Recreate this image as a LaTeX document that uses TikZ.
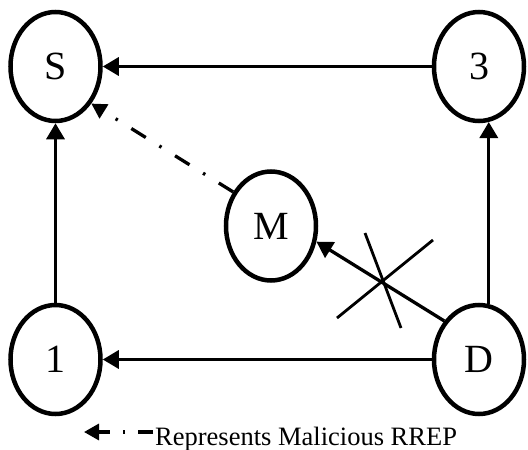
\documentclass[tikz,border=0pt]{standalone}
\usepackage{fontspec}
\setmainfont{Liberation Serif}
\usetikzlibrary{arrows.meta,shapes.geometric,calc}
\begin{document}
\begin{tikzpicture}[x=1pt,y=-1pt,
  nodeell/.style={ellipse,draw,line width=4.5pt,minimum width=90pt,minimum height=109pt,inner sep=0pt,font=\fontsize{40}{40}\selectfont},
  link/.style={line width=3.3pt,-{Triangle[length=16pt,width=18pt]}},
  mal/.style={line width=3.3pt,dash pattern=on 17pt off 16pt on 2.5pt off 16pt,-{Triangle[length=15pt,width=16pt]}},
  legendmal/.style={mal,dash pattern=on 15pt off 13pt on 2.5pt off 13pt},
  crossline/.style={line width=2.8pt}]
\useasboundingbox (0,0) rectangle (528,450);
\node[nodeell] (S) at (55.5,66.5) {S};
\node[nodeell] (T) at (479,66.5) {3};
\node[nodeell] (M) at (271,226) {M};
\node[nodeell] (O) at (55.5,359.5) {1};
\node[nodeell] (D) at (479,359.5) {D};
\draw[link] (T.west) -- (S.east);
\draw[link] (O.north) -- (S.south);
\draw[link] (D.west) -- (O.east);
\draw[link] (D.80) -- (T.280);
\draw[link] (D.132) -- (M.-19);
\draw[mal] (M.138) -- (S.-46);
\coordinate (c1) at (337,318);
\coordinate (c2) at (433,240);
\coordinate (c3) at (365,233);
\coordinate (c4) at (401,328);
\draw[crossline] (c1) -- (c2);
\draw[crossline] (c3) -- (c4);
\coordinate (l1) at (153,432);
\coordinate (l2) at (84,432);
\draw[legendmal] (l1) -- (l2);
\node[anchor=base west,inner sep=0pt,font=\fontsize{26.5}{26.5}\selectfont] (leg) at (155,445) {Represents Malicious RREP};
\end{tikzpicture}
\end{document}
